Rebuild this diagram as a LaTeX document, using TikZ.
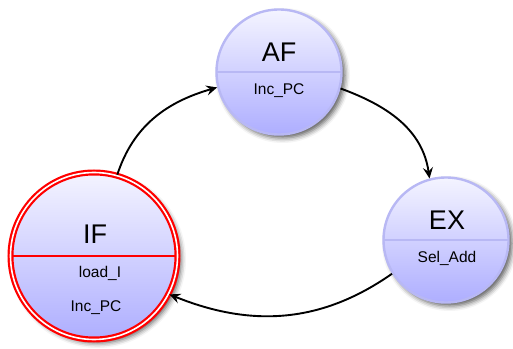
\documentclass[tikz,border=0pt]{standalone}
\usepackage{fontspec}
\setmainfont{Liberation Sans}
\usetikzlibrary{arrows.meta,shadows.blur,shapes.geometric}
\definecolor{stTop}{RGB}{244,244,255}
\definecolor{stBot}{RGB}{174,174,255}
\definecolor{stRim}{RGB}{184,184,244}
\tikzset{
  state/.style={circle, minimum size=125pt, inner sep=0pt,
    top color=stTop, bottom color=stBot, draw=stRim, line width=2.4pt,
    blur shadow={shadow xshift=3.5pt, shadow yshift=-3.5pt,
      shadow blur radius=5pt, shadow opacity=65},
    path picture={\draw[stRim, line width=2pt]
      (path picture bounding box.west) -- (path picture bounding box.east);}},
  initstate/.style={state, minimum size=167pt, draw=red, line width=2.2pt,
    double=white, double distance=1.6pt,
    path picture={\draw[red, line width=2pt]
      (path picture bounding box.west) -- (path picture bounding box.east);}},
  title/.style={font=\fontsize{27}{30}\selectfont, inner sep=0pt},
  action/.style={font=\fontsize{15.5}{18}\selectfont, inner sep=0pt},
  trans/.style={line width=1.9pt, -{Stealth[length=11pt, width=10pt, inset=4pt]}}
}
\begin{document}
\begin{tikzpicture}[x=1pt, y=1pt]
  \useasboundingbox (0,0) rectangle (513,348);

  % states
  \node[state] (af) at (279,276) {};
  \node[state] (ex) at (446,108) {};
  \node[initstate] (if) at (94,92) {};

  % state names and actions
  \node[title] (afname) at (279,296) {AF};
  \node[action] (afact) at (279,257) {Inc\_PC};

  \node[title] (exname) at (447,128) {EX};
  \node[action] (exact) at (447,90) {Sel\_Add};

  \node[title] (ifname) at (95,114) {IF};
  \node[action] (ifact1) at (100,75) {load\_I};
  \node[action] (ifact2) at (96,40) {Inc\_PC};

  % transitions
  \draw[trans] (if.74) to[out=72, in=196] (af.194);
  \draw[trans] (af.-15) to[out=-20, in=98] (ex.105);
  \draw[trans] (ex.212) to[out=215, in=-22] (if.-27);
\end{tikzpicture}
\end{document}
